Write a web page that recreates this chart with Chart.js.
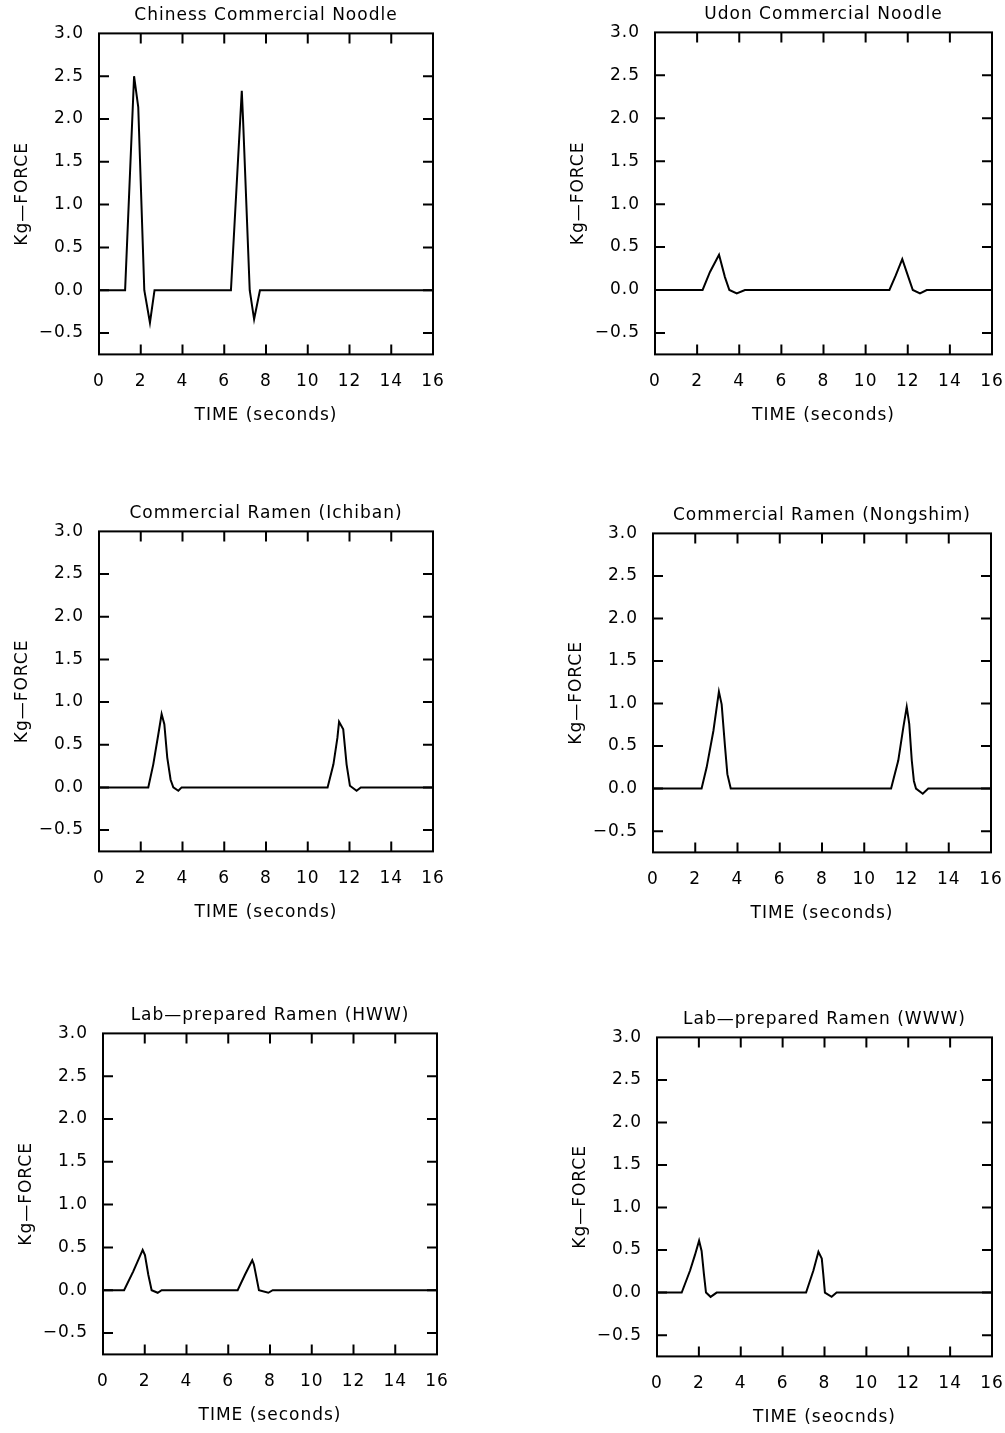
<!DOCTYPE html>
<html>
<head>
<meta charset="utf-8">
<script src="https://cdn.jsdelivr.net/npm/chart.js@4.4.1/dist/chart.umd.min.js"></script>
<style>
  html, body { margin: 0; padding: 0; background: #fff; }
  body { width: 1005px; height: 1433px; position: relative; overflow: hidden; }
  .panel { position: absolute; }
</style>
</head>
<body>
<script>
// Axis ticks shared by every panel
const timeTicks = [0, 2, 4, 6, 8, 10, 12, 14, 16];
const forceTicks = [-0.5, 0, 0.5, 1, 1.5, 2, 2.5, 3];

// Panel texts
const panelTitles = [
    'Chiness Commercial Noodle',
    'Udon Commercial Noodle',
    'Commercial Ramen (Ichiban)',
    'Commercial Ramen (Nongshim)',
    'Lab—prepared Ramen (HWW)',
    'Lab—prepared Ramen (WWW)'
];
const timeTitles = [
    'TIME (seconds)', 'TIME (seconds)', 'TIME (seconds)',
    'TIME (seconds)', 'TIME (seconds)', 'TIME (seocnds)'
];
const forceTitle = 'Kg—FORCE';

// Force curves (seconds, kg-force)
const chinessTime  = [0, 1.25, 1.68, 1.88, 2.17, 2.44, 2.66, 6.32, 6.84, 6.90, 7.22, 7.43, 7.71, 16];
const chinessForce = [0, 0, 2.50, 2.14, 0, -0.38, 0, 0, 2.33, 2.00, 0, -0.34, 0, 0];

const udonTime  = [0, 2.26, 2.61, 3.04, 3.32, 3.53, 3.88, 4.27, 11.13, 11.43, 11.74, 12.03, 12.24, 12.58, 12.90, 16];
const udonForce = [0, 0, 0.21, 0.41, 0.15, 0, -0.04, 0, 0, 0.17, 0.36, 0.15, 0, -0.04, 0, 0];

const ichibanTime  = [0, 2.36, 2.60, 2.84, 3.00, 3.13, 3.27, 3.43, 3.56, 3.80, 3.96, 10.95, 11.23, 11.42, 11.50, 11.70, 11.86, 12.02, 12.34, 12.54, 16];
const ichibanForce = [0, 0, 0.27, 0.62, 0.86, 0.74, 0.35, 0.09, 0, -0.04, 0, 0, 0.27, 0.58, 0.77, 0.68, 0.27, 0.02, -0.04, 0, 0];

const nongshimTime  = [0, 2.30, 2.54, 2.86, 3.12, 3.25, 3.41, 3.52, 3.68, 11.27, 11.61, 11.85, 12.01, 12.13, 12.25, 12.35, 12.45, 12.77, 13.03, 16];
const nongshimForce = [0, 0, 0.25, 0.68, 1.14, 0.99, 0.49, 0.17, 0, 0, 0.33, 0.72, 0.96, 0.76, 0.33, 0.09, 0, -0.06, 0, 0];

const hwwTime  = [0, 1.01, 1.45, 1.90, 2.01, 2.17, 2.33, 2.62, 2.81, 6.45, 6.80, 7.15, 7.23, 7.47, 7.92, 8.13, 16];
const hwwForce = [0, 0, 0.22, 0.47, 0.41, 0.18, 0, -0.03, 0, 0, 0.18, 0.35, 0.30, 0, -0.03, 0, 0];

const wwwTime  = [0, 1.18, 1.58, 1.81, 2.01, 2.13, 2.24, 2.34, 2.56, 2.85, 7.12, 7.47, 7.71, 7.87, 7.94, 8.02, 8.34, 8.58, 16];
const wwwForce = [0, 0, 0.26, 0.44, 0.61, 0.49, 0.22, 0, -0.05, 0, 0, 0.26, 0.48, 0.40, 0.22, 0, -0.05, 0, 0];

const curves = [
    [chinessTime, chinessForce],
    [udonTime, udonForce],
    [ichibanTime, ichibanForce],
    [nongshimTime, nongshimForce],
    [hwwTime, hwwForce],
    [wwwTime, wwwForce]
];

// Plot-area boxes on the page: left, top, right, bottom
const plotBoxes = [
    [99, 33, 433, 354],
    [655, 32, 992, 354],
    [99, 531, 433, 851],
    [653, 533, 991, 852],
    [103, 1033, 437, 1354],
    [657, 1037, 992, 1356]
];

const FONT_SIZE = 17;
const Y_AXIS_W = 99;
const X_AXIS_H = 75;
const TITLE_PAD_TOP = 6;
const TITLE_PAD_BOTTOM = 8;
const TITLE_H = FONT_SIZE * 1.2 + TITLE_PAD_TOP + TITLE_PAD_BOTTOM;
const RIGHT_PAD = 32;
const TICK = 10;

Chart.defaults.font.family = '"DejaVu Sans", sans-serif';
Chart.defaults.color = '#000';

// The printed lettering is widely spaced
const spacingPlugin = {
    id: 'spacing',
    beforeUpdate(chart) { chart.ctx.letterSpacing = '1px'; },
    beforeDraw(chart) { chart.ctx.letterSpacing = '1px'; }
};

// Box round the plot with inward tick marks on all four sides
const framePlugin = {
    id: 'frame',
    afterDatasetsDraw(chart) {
        const { ctx, chartArea: a, scales: { x, y } } = chart;
        ctx.save();
        ctx.strokeStyle = '#000';
        ctx.lineWidth = 2;
        ctx.strokeRect(a.left, a.top, a.right - a.left, a.bottom - a.top);
        ctx.beginPath();
        x.ticks.forEach(t => {
            if (t.value <= x.min || t.value >= x.max) return;
            const px = x.getPixelForValue(t.value);
            ctx.moveTo(px, a.bottom); ctx.lineTo(px, a.bottom - TICK);
            ctx.moveTo(px, a.top); ctx.lineTo(px, a.top + TICK);
        });
        y.ticks.forEach(t => {
            if (t.value <= y.min || t.value >= y.max) return;
            const py = y.getPixelForValue(t.value);
            ctx.moveTo(a.left, py); ctx.lineTo(a.left + TICK, py);
            ctx.moveTo(a.right, py); ctx.lineTo(a.right - TICK, py);
        });
        ctx.stroke();
        ctx.restore();
    }
};

plotBoxes.forEach((box, i) => {
    const [L, T, R, B] = box;
    const div = document.createElement('div');
    div.className = 'panel';
    div.style.left = (L - Y_AXIS_W) + 'px';
    div.style.top = (T - TITLE_H) + 'px';
    div.style.width = (Y_AXIS_W + (R - L) + RIGHT_PAD) + 'px';
    div.style.height = (TITLE_H + (B - T) + X_AXIS_H) + 'px';
    const canvas = document.createElement('canvas');
    div.appendChild(canvas);
    document.body.appendChild(div);

    const [times, forces] = curves[i];
    new Chart(canvas, {
        type: 'scatter',
        data: {
            datasets: [{
                data: times.map((t, k) => ({ x: t, y: forces[k] })),
                showLine: true,
                borderColor: '#000',
                borderWidth: 2,
                pointRadius: 0,
                tension: 0
            }]
        },
        options: {
            responsive: true,
            maintainAspectRatio: false,
            animation: false,
            layout: { padding: { left: 0, top: 0, right: RIGHT_PAD, bottom: 0 } },
            plugins: {
                legend: { display: false },
                tooltip: { enabled: false },
                title: {
                    display: true,
                    text: panelTitles[i],
                    fullSize: false,
                    font: { size: FONT_SIZE, weight: 'normal', lineHeight: 1.2 },
                    padding: { top: TITLE_PAD_TOP, bottom: TITLE_PAD_BOTTOM }
                }
            },
            scales: {
                x: {
                    type: 'linear',
                    min: 0, max: 16,
                    afterBuildTicks: s => { s.ticks = timeTicks.map(v => ({ value: v })); },
                    afterFit: s => { s.height = X_AXIS_H; },
                    grid: { display: false, drawTicks: false },
                    border: { display: false },
                    ticks: { padding: 17, font: { size: FONT_SIZE }, maxRotation: 0 },
                    title: {
                        display: true,
                        text: timeTitles[i],
                        font: { size: FONT_SIZE, lineHeight: 1.2 },
                        padding: { top: 0, bottom: 4 }
                    }
                },
                y: {
                    type: 'linear',
                    min: -0.75, max: 3,
                    afterBuildTicks: s => { s.ticks = forceTicks.map(v => ({ value: v })); },
                    afterFit: s => { s.width = Y_AXIS_W; },
                    grid: { display: false, drawTicks: false },
                    border: { display: false },
                    ticks: {
                        padding: 15,
                        font: { size: FONT_SIZE },
                        callback: v => v.toFixed(1).replace('-', '\u2212')
                    },
                    title: {
                        display: true,
                        text: forceTitle,
                        font: { size: FONT_SIZE, lineHeight: 1.2 },
                        padding: { top: 12, bottom: 0 }
                    }
                }
            }
        },
        plugins: [spacingPlugin, framePlugin]
    });
});
</script>
</body>
</html>
